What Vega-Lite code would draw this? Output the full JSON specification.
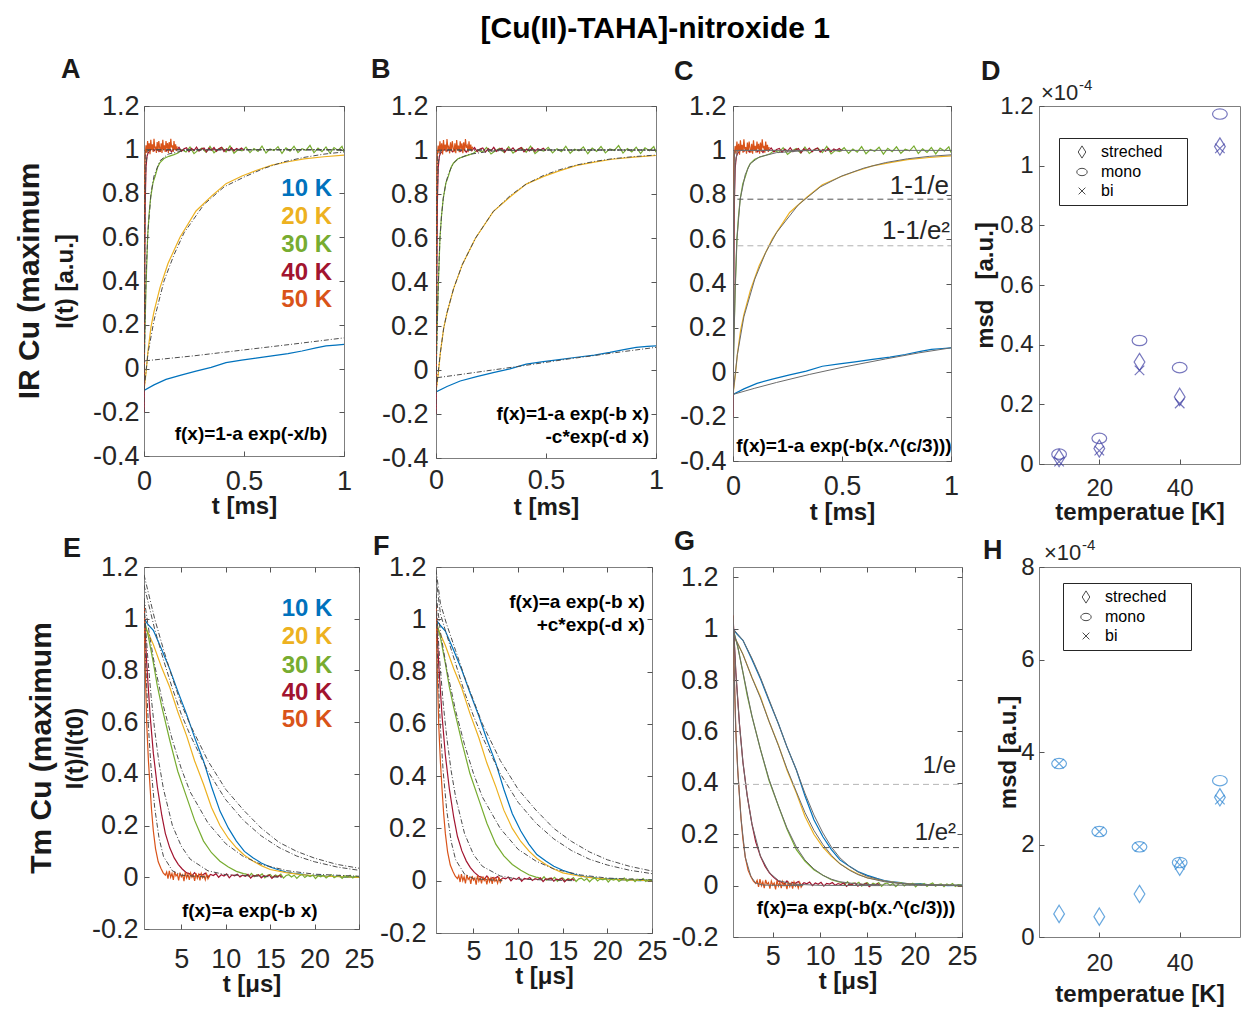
{
"$schema": "https://vega.github.io/schema/vega-lite/v6.json",
"padding": {"left": 13, "top": 13, "right": 0, "bottom": 0},
"title": {"text": "[Cu(II)-TAHA]-nitroxide 1", "fontSize": 30, "fontWeight": "bold", "font": "Liberation Sans", "color": "#000000", "anchor": "middle", "offset": 12, "dx": 28},
"config": {
  "font": "Liberation Sans",
  "view": {"stroke": "#7f7f7f", "strokeWidth": 1},
  "axis": {"domain": false, "grid": false, "ticks": true, "tickSize": -5, "tickColor": "#555555", "tickWidth": 1, "labelFont": "Liberation Sans", "labelFontSize": 27, "labelColor": "#262626", "labelFlush": false, "labelOverlap": false, "titleFont": "Liberation Sans", "titleFontSize": 24, "titleFontWeight": "bold", "titleColor": "#1a1a1a"},
  "text": {"font": "Liberation Sans"},
  "legend": {"labelFont": "Liberation Sans"}
},
"datasets": {
"ir": [
{"s":"10 K","t":0,"y":-0.1},{"s":"10 K","t":0.05,"y":-0.075},{"s":"10 K","t":0.11,"y":-0.05},{"s":"10 K","t":0.185,"y":-0.03},{"s":"10 K","t":0.26,"y":-0.012},{"s":"10 K","t":0.336,"y":0.005},{"s":"10 K","t":0.41,"y":0.027},{"s":"10 K","t":0.488,"y":0.038},{"s":"10 K","t":0.56,"y":0.047},{"s":"10 K","t":0.64,"y":0.058},{"s":"10 K","t":0.72,"y":0.068},{"s":"10 K","t":0.79,"y":0.08},{"s":"10 K","t":0.86,"y":0.094},{"s":"10 K","t":0.91,"y":0.103},{"s":"10 K","t":0.96,"y":0.107},{"s":"10 K","t":1,"y":0.11},
{"s":"20 K","t":0,"y":-0.1},{"s":"20 K","t":0.01,"y":-0.02},{"s":"20 K","t":0.02,"y":0.08},{"s":"20 K","t":0.035,"y":0.19},{"s":"20 K","t":0.05,"y":0.26},{"s":"20 K","t":0.08,"y":0.37},{"s":"20 K","t":0.12,"y":0.48},{"s":"20 K","t":0.18,"y":0.6},{"s":"20 K","t":0.26,"y":0.72},{"s":"20 K","t":0.34,"y":0.79},{"s":"20 K","t":0.41,"y":0.845},{"s":"20 K","t":0.49,"y":0.88},{"s":"20 K","t":0.56,"y":0.905},{"s":"20 K","t":0.64,"y":0.93},{"s":"20 K","t":0.72,"y":0.945},{"s":"20 K","t":0.8,"y":0.958},{"s":"20 K","t":0.9,"y":0.968},{"s":"20 K","t":1,"y":0.975},
{"s":"30 K","t":0,"y":-0.05},{"s":"30 K","t":0.004,"y":0.15},{"s":"30 K","t":0.01,"y":0.37},{"s":"30 K","t":0.018,"y":0.6},{"s":"30 K","t":0.025,"y":0.7},{"s":"30 K","t":0.033,"y":0.78},{"s":"30 K","t":0.045,"y":0.85},{"s":"30 K","t":0.056,"y":0.88},{"s":"30 K","t":0.068,"y":0.92},{"s":"30 K","t":0.079,"y":0.94},{"s":"30 K","t":0.1,"y":0.96},{"s":"30 K","t":0.124,"y":0.97},{"s":"30 K","t":0.15,"y":0.978},
{"s":"30 K","t":0.17,"y":0.985},{"s":"30 K","t":0.19,"y":1.0},{"s":"30 K","t":0.21,"y":0.99},{"s":"30 K","t":0.23,"y":1.012},{"s":"30 K","t":0.25,"y":0.982},{"s":"30 K","t":0.27,"y":0.997},{"s":"30 K","t":0.29,"y":1.008},{"s":"30 K","t":0.31,"y":0.988},{"s":"30 K","t":0.33,"y":1.015},{"s":"30 K","t":0.35,"y":0.986},{"s":"30 K","t":0.37,"y":1.002},{"s":"30 K","t":0.39,"y":1.01},{"s":"30 K","t":0.41,"y":0.99},{"s":"30 K","t":0.43,"y":1.018},{"s":"30 K","t":0.45,"y":0.984},{"s":"30 K","t":0.47,"y":1.0},{"s":"30 K","t":0.49,"y":0.995},{"s":"30 K","t":0.51,"y":1.012},{"s":"30 K","t":0.53,"y":0.987},{"s":"30 K","t":0.55,"y":1.006},{"s":"30 K","t":0.57,"y":0.992},{"s":"30 K","t":0.59,"y":1.017},{"s":"30 K","t":0.61,"y":0.985},{"s":"30 K","t":0.63,"y":1.004},{"s":"30 K","t":0.65,"y":0.996},{"s":"30 K","t":0.67,"y":1.014},{"s":"30 K","t":0.69,"y":0.983},{"s":"30 K","t":0.71,"y":1.009},{"s":"30 K","t":0.73,"y":0.994},{"s":"30 K","t":0.75,"y":1.016},{"s":"30 K","t":0.77,"y":0.987},{"s":"30 K","t":0.79,"y":1.005},{"s":"30 K","t":0.81,"y":0.998},{"s":"30 K","t":0.83,"y":1.02},{"s":"30 K","t":0.85,"y":0.986},{"s":"30 K","t":0.87,"y":1.007},{"s":"30 K","t":0.89,"y":0.991},{"s":"30 K","t":0.91,"y":1.013},{"s":"30 K","t":0.93,"y":0.984},{"s":"30 K","t":0.95,"y":1.01},{"s":"30 K","t":0.97,"y":0.997},{"s":"30 K","t":0.99,"y":1.016},{"s":"30 K","t":1.0,"y":0.99},
{"s":"40 K","t":0,"y":-0.2},{"s":"40 K","t":0.003,"y":0.3},{"s":"40 K","t":0.006,"y":0.75},{"s":"40 K","t":0.01,"y":0.92},{"s":"40 K","t":0.015,"y":0.97},{"s":"40 K","t":0.02,"y":0.985},{"s":"40 K","t":0.03,"y":0.995},
{"s":"40 K","t":0.0375,"y":1.005},{"s":"40 K","t":0.05,"y":0.995},{"s":"40 K","t":0.0625,"y":1.01},{"s":"40 K","t":0.075,"y":0.992},{"s":"40 K","t":0.0875,"y":1.003},{"s":"40 K","t":0.1,"y":1.012},{"s":"40 K","t":0.1125,"y":0.994},{"s":"40 K","t":0.125,"y":1.006},{"s":"40 K","t":0.1375,"y":0.99},{"s":"40 K","t":0.15,"y":1.008},{"s":"40 K","t":0.1625,"y":0.997},{"s":"40 K","t":0.175,"y":1.011},{"s":"40 K","t":0.1875,"y":0.993},{"s":"40 K","t":0.2,"y":1.004},{"s":"40 K","t":0.2125,"y":1.009},{"s":"40 K","t":0.225,"y":0.991},{"s":"40 K","t":0.2375,"y":1.006},{"s":"40 K","t":0.25,"y":0.996},{"s":"40 K","t":0.2625,"y":1.012},{"s":"40 K","t":0.275,"y":0.994},{"s":"40 K","t":0.2875,"y":1.003},{"s":"40 K","t":0.3,"y":1.008},{"s":"40 K","t":0.3125,"y":0.99},{"s":"40 K","t":0.325,"y":1.007},{"s":"40 K","t":0.3375,"y":0.998},{"s":"40 K","t":0.35,"y":1.01},{"s":"40 K","t":0.3625,"y":0.993},{"s":"40 K","t":0.375,"y":1.005},{"s":"40 K","t":0.3875,"y":1.011},{"s":"40 K","t":0.4,"y":0.992},{"s":"40 K","t":0.4125,"y":1.004},{"s":"40 K","t":0.425,"y":0.996},{"s":"40 K","t":0.4375,"y":1.009},{"s":"40 K","t":0.45,"y":0.994},{"s":"40 K","t":0.4625,"y":1.006},{"s":"40 K","t":0.475,"y":1.0},{"s":"40 K","t":0.4875,"y":1.008},{"s":"40 K","t":0.5,"y":0.997},
{"s":"50 K","t":0,"y":-0.05},{"s":"50 K","t":0.002,"y":0.5},{"s":"50 K","t":0.004,"y":0.9},{"s":"50 K","t":0.006,"y":0.98},{"s":"50 K","t":0.008,"y":1.0},
{"s":"50 K","t":0.01,"y":1.02},{"s":"50 K","t":0.014,"y":0.985},{"s":"50 K","t":0.018,"y":1.04},{"s":"50 K","t":0.022,"y":0.995},{"s":"50 K","t":0.026,"y":1.03},{"s":"50 K","t":0.03,"y":0.98},{"s":"50 K","t":0.034,"y":1.045},{"s":"50 K","t":0.038,"y":1.0},{"s":"50 K","t":0.042,"y":1.025},{"s":"50 K","t":0.046,"y":0.99},{"s":"50 K","t":0.05,"y":1.05},{"s":"50 K","t":0.054,"y":1.005},{"s":"50 K","t":0.058,"y":1.015},{"s":"50 K","t":0.062,"y":0.985},{"s":"50 K","t":0.066,"y":1.035},{"s":"50 K","t":0.07,"y":0.995},{"s":"50 K","t":0.074,"y":1.04},{"s":"50 K","t":0.078,"y":1.01},{"s":"50 K","t":0.082,"y":0.99},{"s":"50 K","t":0.086,"y":1.03},{"s":"50 K","t":0.09,"y":0.985},{"s":"50 K","t":0.094,"y":1.045},{"s":"50 K","t":0.098,"y":1.0},{"s":"50 K","t":0.102,"y":1.02},{"s":"50 K","t":0.106,"y":0.99},{"s":"50 K","t":0.11,"y":1.04},{"s":"50 K","t":0.114,"y":1.005},{"s":"50 K","t":0.118,"y":1.03},{"s":"50 K","t":0.122,"y":0.985},{"s":"50 K","t":0.126,"y":1.035},{"s":"50 K","t":0.13,"y":0.995},{"s":"50 K","t":0.134,"y":1.05},{"s":"50 K","t":0.138,"y":1.01},{"s":"50 K","t":0.142,"y":1.02},{"s":"50 K","t":0.146,"y":0.99},{"s":"50 K","t":0.15,"y":1.04},{"s":"50 K","t":0.154,"y":1.0},{"s":"50 K","t":0.158,"y":1.025},{"s":"50 K","t":0.162,"y":0.995},{"s":"50 K","t":0.166,"y":1.015}
],
"tm": [
{"s":"10 K","t":0.8,"y":1.0},{"s":"10 K","t":1.2,"y":0.98},{"s":"10 K","t":1.85,"y":0.955},{"s":"10 K","t":2.8,"y":0.88},{"s":"10 K","t":3.7,"y":0.805},{"s":"10 K","t":4.6,"y":0.72},{"s":"10 K","t":5.6,"y":0.63},{"s":"10 K","t":6.5,"y":0.54},{"s":"10 K","t":7.5,"y":0.45},{"s":"10 K","t":8.4,"y":0.35},{"s":"10 K","t":9.35,"y":0.256},{"s":"10 K","t":10.3,"y":0.19},{"s":"10 K","t":11.2,"y":0.14},{"s":"10 K","t":12.1,"y":0.1},{"s":"10 K","t":13.1,"y":0.075},{"s":"10 K","t":14,"y":0.055},{"s":"10 K","t":15,"y":0.04},{"s":"10 K","t":16,"y":0.028},{"s":"10 K","t":16.8,"y":0.02},{"s":"10 K","t":17.5,"y":0.016},{"s":"10 K","t":18.5,"y":0.012},{"s":"10 K","t":19.5,"y":0.006},{"s":"10 K","t":20.6,"y":0.008},{"s":"10 K","t":21.5,"y":0.003},{"s":"10 K","t":22.5,"y":0.004},{"s":"10 K","t":23.5,"y":0.0},{"s":"10 K","t":25,"y":0.002},
{"s":"20 K","t":0.8,"y":0.97},{"s":"20 K","t":1.2,"y":0.95},{"s":"20 K","t":1.85,"y":0.9},{"s":"20 K","t":2.8,"y":0.81},{"s":"20 K","t":3.7,"y":0.735},{"s":"20 K","t":4.6,"y":0.64},{"s":"20 K","t":5.6,"y":0.547},{"s":"20 K","t":6.5,"y":0.45},{"s":"20 K","t":7.5,"y":0.36},{"s":"20 K","t":8.4,"y":0.27},{"s":"20 K","t":9.35,"y":0.2},{"s":"20 K","t":10.3,"y":0.15},{"s":"20 K","t":11.2,"y":0.114},{"s":"20 K","t":12.1,"y":0.085},{"s":"20 K","t":13.1,"y":0.062},{"s":"20 K","t":14,"y":0.045},{"s":"20 K","t":15,"y":0.03},{"s":"20 K","t":16.8,"y":0.018},{"s":"20 K","t":18.5,"y":0.01},{"s":"20 K","t":20,"y":0.006},{"s":"20 K","t":22,"y":0.003},{"s":"20 K","t":25,"y":0.0},
{"s":"30 K","t":0.8,"y":1.0},{"s":"30 K","t":1.3,"y":0.93},{"s":"30 K","t":1.85,"y":0.83},{"s":"30 K","t":2.3,"y":0.74},{"s":"30 K","t":2.8,"y":0.66},{"s":"30 K","t":3.7,"y":0.53},{"s":"30 K","t":4.6,"y":0.41},{"s":"30 K","t":5.6,"y":0.31},{"s":"30 K","t":6.5,"y":0.22},{"s":"30 K","t":7.5,"y":0.14},{"s":"30 K","t":8.4,"y":0.095},{"s":"30 K","t":9.35,"y":0.062},{"s":"30 K","t":10.3,"y":0.04},{"s":"30 K","t":11.2,"y":0.023},{"s":"30 K","t":12,"y":0.014},
{"s":"30 K","t":12.3,"y":0.012},{"s":"30 K","t":12.6,"y":0.004},{"s":"30 K","t":12.9,"y":0.015},{"s":"30 K","t":13.2,"y":0.002},{"s":"30 K","t":13.5,"y":0.01},{"s":"30 K","t":13.8,"y":0.006},{"s":"30 K","t":14.1,"y":0.013},{"s":"30 K","t":14.4,"y":-0.002},{"s":"30 K","t":14.7,"y":0.008},{"s":"30 K","t":15.0,"y":0.011},{"s":"30 K","t":15.3,"y":0.0},{"s":"30 K","t":15.6,"y":0.009},{"s":"30 K","t":15.9,"y":0.004},{"s":"30 K","t":16.2,"y":0.012},{"s":"30 K","t":16.5,"y":-0.003},{"s":"30 K","t":16.8,"y":0.007},{"s":"30 K","t":17.1,"y":0.01},{"s":"30 K","t":17.4,"y":0.001},{"s":"30 K","t":17.7,"y":0.008},{"s":"30 K","t":18.0,"y":-0.004},{"s":"30 K","t":18.3,"y":0.006},{"s":"30 K","t":18.6,"y":0.011},{"s":"30 K","t":18.9,"y":-0.001},{"s":"30 K","t":19.2,"y":0.007},{"s":"30 K","t":19.5,"y":0.003},{"s":"30 K","t":19.8,"y":0.009},{"s":"30 K","t":20.1,"y":-0.005},{"s":"30 K","t":20.4,"y":0.006},{"s":"30 K","t":20.7,"y":0.002},{"s":"30 K","t":21.0,"y":0.008},{"s":"30 K","t":21.3,"y":-0.003},{"s":"30 K","t":21.6,"y":0.005},{"s":"30 K","t":21.9,"y":0.01},{"s":"30 K","t":22.2,"y":-0.002},{"s":"30 K","t":22.5,"y":0.004},{"s":"30 K","t":22.8,"y":0.007},{"s":"30 K","t":23.1,"y":-0.004},{"s":"30 K","t":23.4,"y":0.006},{"s":"30 K","t":23.7,"y":0.001},{"s":"30 K","t":24.0,"y":0.008},{"s":"30 K","t":24.3,"y":-0.003},{"s":"30 K","t":24.6,"y":0.004},{"s":"30 K","t":24.9,"y":0.002},{"s":"30 K","t":25,"y":0.0},
{"s":"40 K","t":0.8,"y":1.05},{"s":"40 K","t":1.1,"y":0.83},{"s":"40 K","t":1.48,"y":0.63},{"s":"40 K","t":1.85,"y":0.48},{"s":"40 K","t":2.3,"y":0.35},{"s":"40 K","t":2.8,"y":0.24},{"s":"40 K","t":3.2,"y":0.17},{"s":"40 K","t":3.7,"y":0.114},{"s":"40 K","t":4.2,"y":0.075},{"s":"40 K","t":4.65,"y":0.05},{"s":"40 K","t":5.1,"y":0.032},{"s":"40 K","t":5.6,"y":0.017},
{"s":"40 K","t":5.9,"y":0.014},{"s":"40 K","t":6.2,"y":0.006},{"s":"40 K","t":6.5,"y":0.018},{"s":"40 K","t":6.8,"y":0.004},{"s":"40 K","t":7.1,"y":0.012},{"s":"40 K","t":7.4,"y":0.009},{"s":"40 K","t":7.7,"y":0.016},{"s":"40 K","t":8.0,"y":0.002},{"s":"40 K","t":8.3,"y":0.011},{"s":"40 K","t":8.6,"y":0.007},{"s":"40 K","t":8.9,"y":0.014},{"s":"40 K","t":9.2,"y":0.0},{"s":"40 K","t":9.5,"y":0.01},{"s":"40 K","t":9.8,"y":0.005},{"s":"40 K","t":10.1,"y":0.013},{"s":"40 K","t":10.4,"y":-0.002},{"s":"40 K","t":10.7,"y":0.009},{"s":"40 K","t":11.0,"y":0.006},{"s":"40 K","t":11.3,"y":0.012},{"s":"40 K","t":11.6,"y":0.001},{"s":"40 K","t":11.9,"y":0.008},{"s":"40 K","t":12.2,"y":0.004},{"s":"40 K","t":12.5,"y":0.011},{"s":"40 K","t":12.8,"y":-0.003},{"s":"40 K","t":13.1,"y":0.007},{"s":"40 K","t":13.4,"y":0.005},{"s":"40 K","t":13.7,"y":0.01},{"s":"40 K","t":14.0,"y":-0.002},{"s":"40 K","t":14.3,"y":0.006},{"s":"40 K","t":14.6,"y":0.003},{"s":"40 K","t":14.9,"y":0.009},{"s":"40 K","t":15.2,"y":-0.004},{"s":"40 K","t":15.5,"y":0.005},{"s":"40 K","t":15.8,"y":0.002},{"s":"40 K","t":16.1,"y":0.007},{"s":"40 K","t":16.3,"y":0.0},
{"s":"50 K","t":0.8,"y":1.05},{"s":"50 K","t":0.95,"y":0.8},{"s":"50 K","t":1.1,"y":0.6},{"s":"50 K","t":1.3,"y":0.45},{"s":"50 K","t":1.48,"y":0.35},{"s":"50 K","t":1.65,"y":0.26},{"s":"50 K","t":1.85,"y":0.18},{"s":"50 K","t":2.1,"y":0.11},{"s":"50 K","t":2.4,"y":0.06},{"s":"50 K","t":2.7,"y":0.035},{"s":"50 K","t":2.96,"y":0.017},{"s":"50 K","t":3.2,"y":0.008},
{"s":"50 K","t":3.35,"y":0.02},{"s":"50 K","t":3.5,"y":-0.005},{"s":"50 K","t":3.65,"y":0.025},{"s":"50 K","t":3.8,"y":0.0},{"s":"50 K","t":3.95,"y":0.015},{"s":"50 K","t":4.1,"y":-0.01},{"s":"50 K","t":4.25,"y":0.022},{"s":"50 K","t":4.4,"y":0.005},{"s":"50 K","t":4.55,"y":0.012},{"s":"50 K","t":4.7,"y":-0.012},{"s":"50 K","t":4.85,"y":0.018},{"s":"50 K","t":5.0,"y":0.002},{"s":"50 K","t":5.15,"y":0.01},{"s":"50 K","t":5.3,"y":-0.015},{"s":"50 K","t":5.45,"y":0.02},{"s":"50 K","t":5.6,"y":-0.002},{"s":"50 K","t":5.75,"y":0.012},{"s":"50 K","t":5.9,"y":-0.01},{"s":"50 K","t":6.05,"y":0.016},{"s":"50 K","t":6.2,"y":0.0},{"s":"50 K","t":6.35,"y":0.008},{"s":"50 K","t":6.5,"y":-0.014},{"s":"50 K","t":6.65,"y":0.015},{"s":"50 K","t":6.8,"y":-0.004},{"s":"50 K","t":6.95,"y":0.01},{"s":"50 K","t":7.1,"y":-0.012},{"s":"50 K","t":7.25,"y":0.014},{"s":"50 K","t":7.4,"y":-0.002},{"s":"50 K","t":7.55,"y":0.006},{"s":"50 K","t":7.7,"y":-0.01},{"s":"50 K","t":7.85,"y":0.012},{"s":"50 K","t":8.0,"y":-0.006},{"s":"50 K","t":8.15,"y":0.004},{"s":"50 K","t":8.2,"y":0.0}
],
"fitA": [
{"s":"10 K","t":0.005,"y":0.035},{"s":"10 K","t":0.25,"y":0.058},{"s":"10 K","t":0.5,"y":0.085},{"s":"10 K","t":0.75,"y":0.112},{"s":"10 K","t":1,"y":0.14},
{"s":"20 K","t":0,"y":-0.1},{"s":"20 K","t":0.02,"y":0.07},{"s":"20 K","t":0.05,"y":0.22},{"s":"20 K","t":0.1,"y":0.4},{"s":"20 K","t":0.15,"y":0.52},{"s":"20 K","t":0.2,"y":0.62},{"s":"20 K","t":0.3,"y":0.75},{"s":"20 K","t":0.4,"y":0.83},{"s":"20 K","t":0.5,"y":0.875},{"s":"20 K","t":0.6,"y":0.915},{"s":"20 K","t":0.7,"y":0.945},{"s":"20 K","t":0.8,"y":0.965},{"s":"20 K","t":0.9,"y":0.98},{"s":"20 K","t":1,"y":0.99},
{"s":"30 K","t":0,"y":-0.05},{"s":"30 K","t":0.01,"y":0.42},{"s":"30 K","t":0.02,"y":0.63},{"s":"30 K","t":0.035,"y":0.8},{"s":"30 K","t":0.05,"y":0.88},{"s":"30 K","t":0.08,"y":0.95},{"s":"30 K","t":0.12,"y":0.98},{"s":"30 K","t":0.2,"y":0.996},{"s":"30 K","t":0.3,"y":1.0},{"s":"30 K","t":1,"y":1.0},
{"s":"40 K","t":0,"y":-0.2},{"s":"40 K","t":0.005,"y":0.75},{"s":"40 K","t":0.01,"y":0.94},{"s":"40 K","t":0.02,"y":0.995},{"s":"40 K","t":0.03,"y":1.0},{"s":"40 K","t":1,"y":1.0},
{"s":"50 K","t":0,"y":-0.05},{"s":"50 K","t":0.003,"y":0.8},{"s":"50 K","t":0.006,"y":0.97},{"s":"50 K","t":0.01,"y":1.0},{"s":"50 K","t":1,"y":1.0}
],
"fitB": [
{"s":"10 K","t":0.005,"y":-0.035},{"s":"10 K","t":0.1,"y":-0.022},{"s":"10 K","t":0.2,"y":-0.008},{"s":"10 K","t":0.3,"y":0.006},{"s":"10 K","t":0.4,"y":0.02},{"s":"10 K","t":0.5,"y":0.035},{"s":"10 K","t":0.6,"y":0.05},{"s":"10 K","t":0.7,"y":0.063},{"s":"10 K","t":0.8,"y":0.077},{"s":"10 K","t":0.9,"y":0.09},{"s":"10 K","t":1,"y":0.103},
{"s":"20 K","t":0,"y":-0.1},{"s":"20 K","t":0.02,"y":0.08},{"s":"20 K","t":0.035,"y":0.19},{"s":"20 K","t":0.05,"y":0.26},{"s":"20 K","t":0.08,"y":0.37},{"s":"20 K","t":0.12,"y":0.48},{"s":"20 K","t":0.18,"y":0.6},{"s":"20 K","t":0.26,"y":0.72},{"s":"20 K","t":0.34,"y":0.795},{"s":"20 K","t":0.41,"y":0.845},{"s":"20 K","t":0.49,"y":0.885},{"s":"20 K","t":0.56,"y":0.91},{"s":"20 K","t":0.64,"y":0.932},{"s":"20 K","t":0.72,"y":0.948},{"s":"20 K","t":0.8,"y":0.96},{"s":"20 K","t":0.9,"y":0.97},{"s":"20 K","t":1,"y":0.977},
{"s":"30 K","t":0,"y":-0.05},{"s":"30 K","t":0.01,"y":0.38},{"s":"30 K","t":0.018,"y":0.6},{"s":"30 K","t":0.025,"y":0.7},{"s":"30 K","t":0.033,"y":0.78},{"s":"30 K","t":0.045,"y":0.85},{"s":"30 K","t":0.056,"y":0.89},{"s":"30 K","t":0.079,"y":0.94},{"s":"30 K","t":0.1,"y":0.96},{"s":"30 K","t":0.15,"y":0.98},{"s":"30 K","t":0.25,"y":0.995},{"s":"30 K","t":0.4,"y":1.0},{"s":"30 K","t":1,"y":1.0},
{"s":"40 K","t":0,"y":-0.2},{"s":"40 K","t":0.005,"y":0.75},{"s":"40 K","t":0.01,"y":0.94},{"s":"40 K","t":0.02,"y":0.995},{"s":"40 K","t":0.03,"y":1.0},{"s":"40 K","t":1,"y":1.0},
{"s":"50 K","t":0,"y":-0.05},{"s":"50 K","t":0.003,"y":0.8},{"s":"50 K","t":0.006,"y":0.97},{"s":"50 K","t":0.01,"y":1.0},{"s":"50 K","t":1,"y":1.0}
],
"fitC": [
{"s":"10 K","t":0,"y":-0.1},{"s":"10 K","t":0.1,"y":-0.072},{"s":"10 K","t":0.2,"y":-0.046},{"s":"10 K","t":0.35,"y":-0.01},{"s":"10 K","t":0.5,"y":0.022},{"s":"10 K","t":0.7,"y":0.06},{"s":"10 K","t":0.85,"y":0.087},{"s":"10 K","t":1,"y":0.11},
{"s":"20 K","t":0,"y":-0.1},{"s":"20 K","t":0.02,"y":0.08},{"s":"20 K","t":0.05,"y":0.25},{"s":"20 K","t":0.1,"y":0.42},{"s":"20 K","t":0.15,"y":0.54},{"s":"20 K","t":0.2,"y":0.63},{"s":"20 K","t":0.3,"y":0.755},{"s":"20 K","t":0.4,"y":0.835},{"s":"20 K","t":0.5,"y":0.885},{"s":"20 K","t":0.6,"y":0.92},{"s":"20 K","t":0.7,"y":0.945},{"s":"20 K","t":0.8,"y":0.962},{"s":"20 K","t":0.9,"y":0.973},{"s":"20 K","t":1,"y":0.98},
{"s":"30 K","t":0,"y":-0.05},{"s":"30 K","t":0.01,"y":0.38},{"s":"30 K","t":0.018,"y":0.6},{"s":"30 K","t":0.033,"y":0.78},{"s":"30 K","t":0.056,"y":0.89},{"s":"30 K","t":0.079,"y":0.94},{"s":"30 K","t":0.12,"y":0.97},{"s":"30 K","t":0.2,"y":0.99},{"s":"30 K","t":0.35,"y":1.0},{"s":"30 K","t":1,"y":1.0},
{"s":"40 K","t":0,"y":-0.2},{"s":"40 K","t":0.005,"y":0.75},{"s":"40 K","t":0.01,"y":0.94},{"s":"40 K","t":0.02,"y":0.995},{"s":"40 K","t":0.03,"y":1.0},{"s":"40 K","t":0.5,"y":1.0},
{"s":"50 K","t":0,"y":-0.05},{"s":"50 K","t":0.003,"y":0.8},{"s":"50 K","t":0.006,"y":0.97},{"s":"50 K","t":0.01,"y":1.0},{"s":"50 K","t":0.17,"y":1.0}
],
"fitE": [
{"s":"10 K","t":0.8,"y":1.17},{"s":"10 K","t":2,"y":1.0},{"s":"10 K","t":3,"y":0.88},{"s":"10 K","t":4,"y":0.77},{"s":"10 K","t":5,"y":0.67},{"s":"10 K","t":6,"y":0.59},{"s":"10 K","t":8,"y":0.45},{"s":"10 K","t":10,"y":0.34},{"s":"10 K","t":12,"y":0.26},{"s":"10 K","t":14,"y":0.19},{"s":"10 K","t":16,"y":0.135},{"s":"10 K","t":18,"y":0.1},{"s":"10 K","t":20,"y":0.074},{"s":"10 K","t":22.5,"y":0.05},{"s":"10 K","t":25,"y":0.035},
{"s":"20 K","t":0.8,"y":1.13},{"s":"20 K","t":2,"y":0.96},{"s":"20 K","t":3,"y":0.84},{"s":"20 K","t":4,"y":0.73},{"s":"20 K","t":5,"y":0.63},{"s":"20 K","t":6,"y":0.55},{"s":"20 K","t":8,"y":0.41},{"s":"20 K","t":10,"y":0.3},{"s":"20 K","t":12,"y":0.22},{"s":"20 K","t":14,"y":0.16},{"s":"20 K","t":16,"y":0.115},{"s":"20 K","t":18,"y":0.082},{"s":"20 K","t":20,"y":0.06},{"s":"20 K","t":22.5,"y":0.04},{"s":"20 K","t":25,"y":0.027},
{"s":"30 K","t":0.8,"y":1.08},{"s":"30 K","t":1.5,"y":0.92},{"s":"30 K","t":2,"y":0.82},{"s":"30 K","t":3,"y":0.66},{"s":"30 K","t":4,"y":0.53},{"s":"30 K","t":5,"y":0.42},{"s":"30 K","t":6,"y":0.33},{"s":"30 K","t":8,"y":0.21},{"s":"30 K","t":10,"y":0.13},{"s":"30 K","t":12,"y":0.08},{"s":"30 K","t":14,"y":0.05},{"s":"30 K","t":17,"y":0.025},{"s":"30 K","t":20,"y":0.012},{"s":"30 K","t":25,"y":0.004},
{"s":"40 K","t":0.8,"y":1.06},{"s":"40 K","t":1.2,"y":0.86},{"s":"40 K","t":1.6,"y":0.7},{"s":"40 K","t":2,"y":0.57},{"s":"40 K","t":2.5,"y":0.44},{"s":"40 K","t":3,"y":0.34},{"s":"40 K","t":4,"y":0.2},{"s":"40 K","t":5,"y":0.12},{"s":"40 K","t":6,"y":0.07},{"s":"40 K","t":8,"y":0.025},{"s":"40 K","t":10,"y":0.01},{"s":"40 K","t":16.3,"y":0.0},
{"s":"50 K","t":0.8,"y":1.06},{"s":"50 K","t":1,"y":0.82},{"s":"50 K","t":1.3,"y":0.58},{"s":"50 K","t":1.6,"y":0.42},{"s":"50 K","t":2,"y":0.27},{"s":"50 K","t":2.5,"y":0.15},{"s":"50 K","t":3,"y":0.08},{"s":"50 K","t":4,"y":0.025},{"s":"50 K","t":5,"y":0.008},{"s":"50 K","t":8.2,"y":0.0}
],
"fitF": [
{"s":"10 K","t":0.8,"y":1.19},{"s":"10 K","t":1.3,"y":1.06},{"s":"10 K","t":2,"y":0.98},{"s":"10 K","t":3,"y":0.88},{"s":"10 K","t":4,"y":0.78},{"s":"10 K","t":5,"y":0.69},{"s":"10 K","t":6,"y":0.6},{"s":"10 K","t":8,"y":0.46},{"s":"10 K","t":10,"y":0.35},{"s":"10 K","t":12,"y":0.27},{"s":"10 K","t":14,"y":0.2},{"s":"10 K","t":16,"y":0.15},{"s":"10 K","t":18,"y":0.11},{"s":"10 K","t":20,"y":0.08},{"s":"10 K","t":22.5,"y":0.055},{"s":"10 K","t":25,"y":0.037},
{"s":"20 K","t":0.8,"y":1.16},{"s":"20 K","t":1.3,"y":1.02},{"s":"20 K","t":2,"y":0.94},{"s":"20 K","t":3,"y":0.83},{"s":"20 K","t":4,"y":0.72},{"s":"20 K","t":5,"y":0.63},{"s":"20 K","t":6,"y":0.55},{"s":"20 K","t":8,"y":0.41},{"s":"20 K","t":10,"y":0.3},{"s":"20 K","t":12,"y":0.22},{"s":"20 K","t":14,"y":0.16},{"s":"20 K","t":16,"y":0.115},{"s":"20 K","t":18,"y":0.082},{"s":"20 K","t":20,"y":0.06},{"s":"20 K","t":22.5,"y":0.04},{"s":"20 K","t":25,"y":0.027},
{"s":"30 K","t":0.8,"y":1.1},{"s":"30 K","t":1.3,"y":0.95},{"s":"30 K","t":2,"y":0.81},{"s":"30 K","t":3,"y":0.65},{"s":"30 K","t":4,"y":0.52},{"s":"30 K","t":5,"y":0.41},{"s":"30 K","t":6,"y":0.32},{"s":"30 K","t":8,"y":0.2},{"s":"30 K","t":10,"y":0.12},{"s":"30 K","t":12,"y":0.075},{"s":"30 K","t":14,"y":0.045},{"s":"30 K","t":17,"y":0.022},{"s":"30 K","t":20,"y":0.01},{"s":"30 K","t":25,"y":0.003},
{"s":"40 K","t":0.8,"y":1.07},{"s":"40 K","t":1.2,"y":0.85},{"s":"40 K","t":1.6,"y":0.68},{"s":"40 K","t":2,"y":0.55},{"s":"40 K","t":2.5,"y":0.42},{"s":"40 K","t":3,"y":0.32},{"s":"40 K","t":4,"y":0.18},{"s":"40 K","t":5,"y":0.1},{"s":"40 K","t":6,"y":0.055},{"s":"40 K","t":8,"y":0.018},{"s":"40 K","t":10,"y":0.006},{"s":"40 K","t":16.3,"y":0.0},
{"s":"50 K","t":0.8,"y":1.06},{"s":"50 K","t":1,"y":0.82},{"s":"50 K","t":1.3,"y":0.58},{"s":"50 K","t":1.6,"y":0.42},{"s":"50 K","t":2,"y":0.27},{"s":"50 K","t":2.5,"y":0.15},{"s":"50 K","t":3,"y":0.08},{"s":"50 K","t":4,"y":0.025},{"s":"50 K","t":5,"y":0.008},{"s":"50 K","t":8.2,"y":0.0}
],
"fitG": [
{"s":"10 K","t":0.8,"y":1.0},{"s":"10 K","t":1.85,"y":0.955},{"s":"10 K","t":2.8,"y":0.885},{"s":"10 K","t":3.7,"y":0.81},{"s":"10 K","t":4.6,"y":0.725},{"s":"10 K","t":5.6,"y":0.63},{"s":"10 K","t":6.5,"y":0.54},{"s":"10 K","t":7.5,"y":0.45},{"s":"10 K","t":8.4,"y":0.36},{"s":"10 K","t":9.35,"y":0.275},{"s":"10 K","t":10.3,"y":0.205},{"s":"10 K","t":11.2,"y":0.15},{"s":"10 K","t":12.1,"y":0.108},{"s":"10 K","t":13.1,"y":0.075},{"s":"10 K","t":14,"y":0.053},{"s":"10 K","t":15,"y":0.036},{"s":"10 K","t":16.8,"y":0.018},{"s":"10 K","t":18.5,"y":0.009},{"s":"10 K","t":20.6,"y":0.004},{"s":"10 K","t":25,"y":0.001},
{"s":"20 K","t":0.8,"y":0.98},{"s":"20 K","t":1.85,"y":0.9},{"s":"20 K","t":2.8,"y":0.81},{"s":"20 K","t":3.7,"y":0.73},{"s":"20 K","t":4.6,"y":0.64},{"s":"20 K","t":5.6,"y":0.545},{"s":"20 K","t":6.5,"y":0.455},{"s":"20 K","t":7.5,"y":0.365},{"s":"20 K","t":8.4,"y":0.285},{"s":"20 K","t":9.35,"y":0.215},{"s":"20 K","t":10.3,"y":0.16},{"s":"20 K","t":11.2,"y":0.118},{"s":"20 K","t":12.1,"y":0.085},{"s":"20 K","t":13.1,"y":0.06},{"s":"20 K","t":14,"y":0.043},{"s":"20 K","t":15,"y":0.03},{"s":"20 K","t":16.8,"y":0.015},{"s":"20 K","t":18.5,"y":0.008},{"s":"20 K","t":20.6,"y":0.003},{"s":"20 K","t":25,"y":0.001},
{"s":"30 K","t":0.8,"y":1.0},{"s":"30 K","t":1.3,"y":0.93},{"s":"30 K","t":1.85,"y":0.83},{"s":"30 K","t":2.8,"y":0.66},{"s":"30 K","t":3.7,"y":0.53},{"s":"30 K","t":4.6,"y":0.415},{"s":"30 K","t":5.6,"y":0.31},{"s":"30 K","t":6.5,"y":0.225},{"s":"30 K","t":7.5,"y":0.15},{"s":"30 K","t":8.4,"y":0.1},{"s":"30 K","t":9.35,"y":0.065},{"s":"30 K","t":10.3,"y":0.04},{"s":"30 K","t":11.2,"y":0.025},{"s":"30 K","t":12.1,"y":0.015},{"s":"30 K","t":14,"y":0.006},{"s":"30 K","t":17,"y":0.002},{"s":"30 K","t":25,"y":0.0},
{"s":"40 K","t":0.8,"y":1.05},{"s":"40 K","t":1.1,"y":0.83},{"s":"40 K","t":1.48,"y":0.63},{"s":"40 K","t":1.85,"y":0.48},{"s":"40 K","t":2.3,"y":0.35},{"s":"40 K","t":2.8,"y":0.24},{"s":"40 K","t":3.7,"y":0.115},{"s":"40 K","t":4.65,"y":0.05},{"s":"40 K","t":5.6,"y":0.02},{"s":"40 K","t":7,"y":0.006},{"s":"40 K","t":10,"y":0.001},{"s":"40 K","t":16.3,"y":0.0},
{"s":"50 K","t":0.8,"y":1.05},{"s":"50 K","t":0.95,"y":0.8},{"s":"50 K","t":1.1,"y":0.6},{"s":"50 K","t":1.3,"y":0.45},{"s":"50 K","t":1.65,"y":0.26},{"s":"50 K","t":2.1,"y":0.11},{"s":"50 K","t":2.7,"y":0.035},{"s":"50 K","t":3.2,"y":0.01},{"s":"50 K","t":4,"y":0.002},{"s":"50 K","t":8.2,"y":0.0}
],
"msdD": [
{"T":10,"m":"streched","v":0.02},{"T":10,"m":"mono","v":0.033},{"T":10,"m":"bi","v":0.008},
{"T":20,"m":"streched","v":0.052},{"T":20,"m":"mono","v":0.086},{"T":20,"m":"bi","v":0.045},
{"T":30,"m":"streched","v":0.342},{"T":30,"m":"mono","v":0.414},{"T":30,"m":"bi","v":0.314},
{"T":40,"m":"streched","v":0.225},{"T":40,"m":"mono","v":0.323},{"T":40,"m":"bi","v":0.203},
{"T":50,"m":"streched","v":1.064},{"T":50,"m":"mono","v":1.173},{"T":50,"m":"bi","v":1.058}
],
"msdH": [
{"T":10,"m":"streched","v":0.5},{"T":10,"m":"mono","v":3.75},{"T":10,"m":"bi","v":3.75},
{"T":20,"m":"streched","v":0.44},{"T":20,"m":"mono","v":2.28},{"T":20,"m":"bi","v":2.28},
{"T":30,"m":"streched","v":0.93},{"T":30,"m":"mono","v":1.95},{"T":30,"m":"bi","v":1.95},
{"T":40,"m":"streched","v":1.52},{"T":40,"m":"mono","v":1.61},{"T":40,"m":"bi","v":1.56},
{"T":50,"m":"streched","v":3.02},{"T":50,"m":"mono","v":3.38},{"T":50,"m":"bi","v":2.97}
]
},
"columns": 4,
"spacing": {"row": 103, "column": 77},
"bounds": "flush",
"resolve": {"scale": {"shape": "independent", "color": "independent"}, "legend": {"shape": "independent", "color": "independent"}},
"concat": [
{
 "width": 200, "height": 350,
 "resolve": {"axis": {"x": "independent", "y": "independent"}},
 "layer": [
  {"data": {"name": "ir"}, "mark": {"type": "line", "strokeWidth": 1.2, "clip": true},
   "encoding": {
    "x": {"field": "t", "type": "quantitative", "scale": {"domain": [0, 1], "nice": false, "zero": false}, "axis": {"values": [0, 0.5, 1], "format": "~g", "title": "t [ms]", "labelPadding": 17, "titlePadding": 0}},
    "y": {"field": "y", "type": "quantitative", "scale": {"domain": [-0.4, 1.2], "nice": false, "zero": false}, "axis": {"values": [-0.4, -0.2, 0, 0.2, 0.4, 0.6, 0.8, 1, 1.2], "format": "~g", "labelExpr": "replace(datum.label, '\u2212', '-')", "title": "I(t) [a.u.]", "labelPadding": 10, "titlePadding": 15}},
    "color": {"field": "s", "type": "nominal", "scale": {"domain": ["10 K", "20 K", "30 K", "40 K", "50 K"], "range": ["#0072BD", "#EDB120", "#77AC30", "#A2142F", "#D95319"]}, "legend": null}
   }},
  {"data": {"name": "fitA"}, "mark": {"type": "line", "color": "#4d4d4d", "strokeWidth": 1, "strokeDash": [5, 2, 1, 2], "clip": true},
   "encoding": {"x": {"field": "t", "type": "quantitative", "axis": null}, "y": {"field": "y", "type": "quantitative", "axis": null}, "detail": {"field": "s", "type": "nominal"}}},
  {"data": {"values": [{}]}, "mark": {"type": "point", "opacity": 0}, "encoding": {"x": {"datum": 0, "axis": {"orient": "top", "values": [0, 0.5, 1], "labels": false, "title": null}}, "y": {"datum": 0, "axis": {"orient": "right", "values": [-0.4, -0.2, 0, 0.2, 0.4, 0.6, 0.8, 1, 1.2], "labels": false, "title": null}}}},
  {"data": {"values": [{}]}, "mark": {"type": "text", "text": "A", "align": "left", "baseline": "alphabetic", "fontSize": 27, "fontWeight": "bold", "color": "#1a1a1a", "dx": -83, "dy": -28}, "encoding": {"x": {"datum": 0, "axis": null}, "y": {"datum": 1.2, "axis": null}}},
  {"data": {"values": [{}]}, "mark": {"type": "text", "text": "IR Cu (maximum", "align": "center", "baseline": "middle", "angle": 270, "fontSize": 30, "fontWeight": "bold", "color": "#1a1a1a", "dy": -114.5}, "encoding": {"x": {"datum": 0, "axis": null}, "y": {"datum": 0.4, "axis": null}}},
  {"data": {"values": [{}]}, "mark": {"type": "text", "text": "10 K", "align": "right", "baseline": "middle", "fontSize": 24, "fontWeight": "bold", "color": "#0072BD"}, "encoding": {"x": {"datum": 0.94, "axis": null}, "y": {"datum": 0.82, "axis": null}}},
  {"data": {"values": [{}]}, "mark": {"type": "text", "text": "20 K", "align": "right", "baseline": "middle", "fontSize": 24, "fontWeight": "bold", "color": "#EDB120"}, "encoding": {"x": {"datum": 0.94, "axis": null}, "y": {"datum": 0.693, "axis": null}}},
  {"data": {"values": [{}]}, "mark": {"type": "text", "text": "30 K", "align": "right", "baseline": "middle", "fontSize": 24, "fontWeight": "bold", "color": "#77AC30"}, "encoding": {"x": {"datum": 0.94, "axis": null}, "y": {"datum": 0.565, "axis": null}}},
  {"data": {"values": [{}]}, "mark": {"type": "text", "text": "40 K", "align": "right", "baseline": "middle", "fontSize": 24, "fontWeight": "bold", "color": "#A2142F"}, "encoding": {"x": {"datum": 0.94, "axis": null}, "y": {"datum": 0.437, "axis": null}}},
  {"data": {"values": [{}]}, "mark": {"type": "text", "text": "50 K", "align": "right", "baseline": "middle", "fontSize": 24, "fontWeight": "bold", "color": "#D95319"}, "encoding": {"x": {"datum": 0.94, "axis": null}, "y": {"datum": 0.313, "axis": null}}},
  {"data": {"values": [{}]}, "mark": {"type": "text", "text": "f(x)=1-a exp(-x/b)", "align": "center", "baseline": "middle", "fontSize": 19, "fontWeight": "bold", "color": "#000000"}, "encoding": {"x": {"datum": 0.535, "axis": null}, "y": {"datum": -0.3, "axis": null}}}
 ]
},
{
 "width": 220, "height": 352,
 "resolve": {"axis": {"x": "independent", "y": "independent"}},
 "layer": [
  {"data": {"name": "ir"}, "mark": {"type": "line", "strokeWidth": 1.2, "clip": true},
   "encoding": {
    "x": {"field": "t", "type": "quantitative", "scale": {"domain": [0, 1], "nice": false, "zero": false}, "axis": {"values": [0, 0.5, 1], "format": "~g", "title": "t [ms]", "labelPadding": 14, "titlePadding": 2}},
    "y": {"field": "y", "type": "quantitative", "scale": {"domain": [-0.4, 1.2], "nice": false, "zero": false}, "axis": {"values": [-0.4, -0.2, 0, 0.2, 0.4, 0.6, 0.8, 1, 1.2], "format": "~g", "labelExpr": "replace(datum.label, '\u2212', '-')", "title": null, "labelPadding": 13}},
    "color": {"field": "s", "type": "nominal", "scale": {"domain": ["10 K", "20 K", "30 K", "40 K", "50 K"], "range": ["#0072BD", "#EDB120", "#77AC30", "#A2142F", "#D95319"]}, "legend": null}
   }},
  {"data": {"name": "fitB"}, "mark": {"type": "line", "color": "#4d4d4d", "strokeWidth": 1, "strokeDash": [5, 2, 1, 2], "clip": true},
   "encoding": {"x": {"field": "t", "type": "quantitative", "axis": null}, "y": {"field": "y", "type": "quantitative", "axis": null}, "detail": {"field": "s", "type": "nominal"}}},
  {"data": {"values": [{}]}, "mark": {"type": "point", "opacity": 0}, "encoding": {"x": {"datum": 0, "axis": {"orient": "top", "values": [0, 0.5, 1], "labels": false, "title": null}}, "y": {"datum": 0, "axis": {"orient": "right", "values": [-0.4, -0.2, 0, 0.2, 0.4, 0.6, 0.8, 1, 1.2], "labels": false, "title": null}}}},
  {"data": {"values": [{}]}, "mark": {"type": "text", "text": "B", "align": "left", "baseline": "alphabetic", "fontSize": 27, "fontWeight": "bold", "color": "#1a1a1a", "dx": -65, "dy": -28}, "encoding": {"x": {"datum": 0, "axis": null}, "y": {"datum": 1.2, "axis": null}}},
  {"data": {"values": [{}]}, "mark": {"type": "text", "text": "f(x)=1-a exp(-b x)", "align": "right", "baseline": "middle", "fontSize": 19, "fontWeight": "bold", "color": "#000000"}, "encoding": {"x": {"datum": 0.968, "axis": null}, "y": {"datum": -0.2, "axis": null}}},
  {"data": {"values": [{}]}, "mark": {"type": "text", "text": "-c*exp(-d x)", "align": "right", "baseline": "middle", "fontSize": 19, "fontWeight": "bold", "color": "#000000"}, "encoding": {"x": {"datum": 0.968, "axis": null}, "y": {"datum": -0.305, "axis": null}}}
 ]
},
{
 "width": 218, "height": 355,
 "resolve": {"axis": {"x": "independent", "y": "independent"}},
 "layer": [
  {"data": {"name": "ir"}, "mark": {"type": "line", "strokeWidth": 1.2, "clip": true},
   "encoding": {
    "x": {"field": "t", "type": "quantitative", "scale": {"domain": [0, 1], "nice": false, "zero": false}, "axis": {"values": [0, 0.5, 1], "format": "~g", "title": "t [ms]", "labelPadding": 17, "titlePadding": 1}},
    "y": {"field": "y", "type": "quantitative", "scale": {"domain": [-0.4, 1.2], "nice": false, "zero": false}, "axis": {"values": [-0.4, -0.2, 0, 0.2, 0.4, 0.6, 0.8, 1, 1.2], "format": "~g", "labelExpr": "replace(datum.label, '\u2212', '-')", "title": null, "labelPadding": 12}},
    "color": {"field": "s", "type": "nominal", "scale": {"domain": ["10 K", "20 K", "30 K", "40 K", "50 K"], "range": ["#0072BD", "#EDB120", "#77AC30", "#A2142F", "#D95319"]}, "legend": null}
   }},
  {"data": {"name": "fitC"}, "mark": {"type": "line", "color": "#6b6b6b", "strokeWidth": 1, "clip": true},
   "encoding": {"x": {"field": "t", "type": "quantitative", "axis": null}, "y": {"field": "y", "type": "quantitative", "axis": null}, "detail": {"field": "s", "type": "nominal"}}},
  {"data": {"values": [{}]}, "mark": {"type": "point", "opacity": 0}, "encoding": {"x": {"datum": 0, "axis": {"orient": "top", "values": [0, 0.5, 1], "labels": false, "title": null}}, "y": {"datum": 0, "axis": {"orient": "right", "values": [-0.4, -0.2, 0, 0.2, 0.4, 0.6, 0.8, 1, 1.2], "labels": false, "title": null}}}},
  {"data": {"values": [{}]}, "mark": {"type": "rule", "color": "#555555", "strokeWidth": 1, "strokeDash": [6, 4]}, "encoding": {"x": {"datum": 0.02, "axis": null}, "x2": {"datum": 1}, "y": {"datum": 0.78, "axis": null}}},
  {"data": {"values": [{}]}, "mark": {"type": "rule", "color": "#b0b0b0", "strokeWidth": 1, "strokeDash": [6, 4]}, "encoding": {"x": {"datum": 0.02, "axis": null}, "x2": {"datum": 1}, "y": {"datum": 0.57, "axis": null}}},
  {"data": {"values": [{}]}, "mark": {"type": "text", "text": "1-1/e", "align": "right", "baseline": "middle", "fontSize": 26, "color": "#262626", "dx": -2}, "encoding": {"x": {"datum": 1, "axis": null}, "y": {"datum": 0.839, "axis": null}}},
  {"data": {"values": [{}]}, "mark": {"type": "text", "text": "1-1/e²", "align": "right", "baseline": "middle", "fontSize": 26, "color": "#262626", "dx": -1}, "encoding": {"x": {"datum": 1, "axis": null}, "y": {"datum": 0.636, "axis": null}}},
  {"data": {"values": [{}]}, "mark": {"type": "text", "text": "C", "align": "left", "baseline": "alphabetic", "fontSize": 27, "fontWeight": "bold", "color": "#1a1a1a", "dx": -59, "dy": -26}, "encoding": {"x": {"datum": 0, "axis": null}, "y": {"datum": 1.2, "axis": null}}},
  {"data": {"values": [{}]}, "mark": {"type": "text", "text": "f(x)=1-a exp(-b(x.^(c/3)))", "align": "center", "baseline": "middle", "fontSize": 19, "fontWeight": "bold", "color": "#000000"}, "encoding": {"x": {"datum": 0.509, "axis": null}, "y": {"datum": -0.332, "axis": null}}}
 ]
},
{
 "width": 201, "height": 358,
 "layer": [
  {"data": {"name": "msdD"}, "mark": {"type": "point", "filled": false, "color": "#3f3fa3", "size": 300, "strokeWidth": 1.2},
   "encoding": {
    "x": {"field": "T", "type": "quantitative", "scale": {"domain": [5, 55], "nice": false, "zero": false}, "axis": {"values": [20, 40], "format": "d", "title": "temperatue [K]", "labelFontSize": 24, "labelPadding": 17, "titlePadding": 0}},
    "y": {"field": "v", "type": "quantitative", "scale": {"domain": [0, 1.2], "nice": false, "zero": false}, "axis": {"values": [0, 0.2, 0.4, 0.6, 0.8, 1, 1.2], "format": "~g", "title": "msd\u00a0\u00a0\u00a0[a.u.]", "labelFontSize": 24, "labelPadding": 11, "titlePadding": 2}},
    "shape": {"field": "m", "type": "nominal", "scale": {"domain": ["streched", "mono", "bi"], "range": ["M0,-1L0.62,0L0,1L-0.62,0Z", "M-0.85,0A0.85,0.6,0,1,1,0.85,0A0.85,0.6,0,1,1,-0.85,0Z", "M-0.55,-0.55L0.55,0.55M-0.55,0.55L0.55,-0.55"]},
     "legend": {"title": null, "orient": "none", "legendX": 20, "legendY": 32, "strokeColor": "#262626", "fillColor": "white", "padding": 6, "labelFontSize": 16, "labelColor": "#000000", "symbolSize": 150, "symbolStrokeColor": "#000000", "symbolFillColor": "transparent", "symbolStrokeWidth": 1, "rowPadding": 3, "symbolOffset": 9, "labelOffset": 11, "labelExpr": "datum.label + '\u00a0\u00a0\u00a0\u00a0\u200b'",
      "encode": {"symbols": {"update": {"stroke": {"value": "#000000"}, "strokeWidth": {"value": 1}, "fill": {"value": "transparent"}}}}}}
   }},
  {"data": {"values": [{}]}, "mark": {"type": "text", "text": "D", "align": "left", "baseline": "alphabetic", "fontSize": 27, "fontWeight": "bold", "color": "#1a1a1a", "dx": -58, "dy": -26}, "encoding": {"x": {"datum": 5}, "y": {"datum": 1.2}}},
  {"data": {"values": [{}]}, "mark": {"type": "text", "text": "×10", "align": "left", "baseline": "alphabetic", "fontSize": 22, "color": "#262626", "dx": 2, "dy": -6}, "encoding": {"x": {"datum": 5}, "y": {"datum": 1.2}}},
  {"data": {"values": [{}]}, "mark": {"type": "text", "text": "-4", "align": "left", "baseline": "alphabetic", "fontSize": 15, "color": "#262626", "dx": 40, "dy": -16}, "encoding": {"x": {"datum": 5}, "y": {"datum": 1.2}}}
 ]
},
{
 "width": 215, "height": 362,
 "resolve": {"axis": {"x": "independent", "y": "independent"}},
 "layer": [
  {"data": {"name": "tm"}, "mark": {"type": "line", "strokeWidth": 1.2, "clip": true},
   "encoding": {
    "x": {"field": "t", "type": "quantitative", "scale": {"domain": [0.8, 25], "nice": false, "zero": false}, "axis": {"values": [5, 10, 15, 20, 25], "format": "~g", "title": "t [μs]", "labelPadding": 22, "titlePadding": 0}},
    "y": {"field": "y", "type": "quantitative", "scale": {"domain": [-0.2, 1.2], "nice": false, "zero": false}, "axis": {"values": [-0.2, 0, 0.2, 0.4, 0.6, 0.8, 1, 1.2], "format": "~g", "labelExpr": "replace(datum.label, '\u2212', '-')", "title": "I(t)/I(t0)", "labelPadding": 11, "titlePadding": 4}},
    "color": {"field": "s", "type": "nominal", "scale": {"domain": ["10 K", "20 K", "30 K", "40 K", "50 K"], "range": ["#0072BD", "#EDB120", "#77AC30", "#A2142F", "#D95319"]}, "legend": null}
   }},
  {"data": {"name": "fitE"}, "mark": {"type": "line", "color": "#4d4d4d", "strokeWidth": 1, "strokeDash": [5, 2, 1, 2], "clip": true},
   "encoding": {"x": {"field": "t", "type": "quantitative", "axis": null}, "y": {"field": "y", "type": "quantitative", "axis": null}, "detail": {"field": "s", "type": "nominal"}}},
  {"data": {"values": [{}]}, "mark": {"type": "point", "opacity": 0}, "encoding": {"x": {"datum": 5, "axis": {"orient": "top", "values": [5, 10, 15, 20, 25], "labels": false, "title": null}}, "y": {"datum": 0, "axis": {"orient": "right", "values": [-0.2, 0, 0.2, 0.4, 0.6, 0.8, 1, 1.2], "labels": false, "title": null}}}},
  {"data": {"values": [{}]}, "mark": {"type": "text", "text": "E", "align": "left", "baseline": "alphabetic", "fontSize": 27, "fontWeight": "bold", "color": "#1a1a1a", "dx": -81, "dy": -10}, "encoding": {"x": {"datum": 0.8, "axis": null}, "y": {"datum": 1.2, "axis": null}}},
  {"data": {"values": [{}]}, "mark": {"type": "text", "text": "Tm Cu (maximum", "align": "center", "baseline": "middle", "angle": 270, "fontSize": 30, "fontWeight": "bold", "color": "#1a1a1a", "dy": -102}, "encoding": {"x": {"datum": 0.8, "axis": null}, "y": {"datum": 0.5, "axis": null}}},
  {"data": {"values": [{}]}, "mark": {"type": "text", "text": "10 K", "align": "right", "baseline": "middle", "fontSize": 24, "fontWeight": "bold", "color": "#0072BD"}, "encoding": {"x": {"datum": 22, "axis": null}, "y": {"datum": 1.037, "axis": null}}},
  {"data": {"values": [{}]}, "mark": {"type": "text", "text": "20 K", "align": "right", "baseline": "middle", "fontSize": 24, "fontWeight": "bold", "color": "#EDB120"}, "encoding": {"x": {"datum": 22, "axis": null}, "y": {"datum": 0.929, "axis": null}}},
  {"data": {"values": [{}]}, "mark": {"type": "text", "text": "30 K", "align": "right", "baseline": "middle", "fontSize": 24, "fontWeight": "bold", "color": "#77AC30"}, "encoding": {"x": {"datum": 22, "axis": null}, "y": {"datum": 0.817, "axis": null}}},
  {"data": {"values": [{}]}, "mark": {"type": "text", "text": "40 K", "align": "right", "baseline": "middle", "fontSize": 24, "fontWeight": "bold", "color": "#A2142F"}, "encoding": {"x": {"datum": 22, "axis": null}, "y": {"datum": 0.712, "axis": null}}},
  {"data": {"values": [{}]}, "mark": {"type": "text", "text": "50 K", "align": "right", "baseline": "middle", "fontSize": 24, "fontWeight": "bold", "color": "#D95319"}, "encoding": {"x": {"datum": 22, "axis": null}, "y": {"datum": 0.607, "axis": null}}},
  {"data": {"values": [{}]}, "mark": {"type": "text", "text": "f(x)=a exp(-b x)", "align": "center", "baseline": "middle", "fontSize": 19, "fontWeight": "bold", "color": "#000000"}, "encoding": {"x": {"datum": 12.7, "axis": null}, "y": {"datum": -0.13, "axis": null}}}
 ]
},
{
 "width": 216, "height": 366,
 "resolve": {"axis": {"x": "independent", "y": "independent"}},
 "layer": [
  {"data": {"name": "tm"}, "mark": {"type": "line", "strokeWidth": 1.2, "clip": true},
   "encoding": {
    "x": {"field": "t", "type": "quantitative", "scale": {"domain": [0.8, 25], "nice": false, "zero": false}, "axis": {"values": [5, 10, 15, 20, 25], "format": "~g", "title": "t [μs]", "labelPadding": 10, "titlePadding": 0}},
    "y": {"field": "y", "type": "quantitative", "scale": {"domain": [-0.2, 1.2], "nice": false, "zero": false}, "axis": {"values": [-0.2, 0, 0.2, 0.4, 0.6, 0.8, 1, 1.2], "format": "~g", "labelExpr": "replace(datum.label, '\u2212', '-')", "title": null, "labelPadding": 15}},
    "color": {"field": "s", "type": "nominal", "scale": {"domain": ["10 K", "20 K", "30 K", "40 K", "50 K"], "range": ["#0072BD", "#EDB120", "#77AC30", "#A2142F", "#D95319"]}, "legend": null}
   }},
  {"data": {"name": "fitF"}, "mark": {"type": "line", "color": "#4d4d4d", "strokeWidth": 1, "strokeDash": [5, 2, 1, 2], "clip": true},
   "encoding": {"x": {"field": "t", "type": "quantitative", "axis": null}, "y": {"field": "y", "type": "quantitative", "axis": null}, "detail": {"field": "s", "type": "nominal"}}},
  {"data": {"values": [{}]}, "mark": {"type": "point", "opacity": 0}, "encoding": {"x": {"datum": 5, "axis": {"orient": "top", "values": [5, 10, 15, 20, 25], "labels": false, "title": null}}, "y": {"datum": 0, "axis": {"orient": "right", "values": [-0.2, 0, 0.2, 0.4, 0.6, 0.8, 1, 1.2], "labels": false, "title": null}}}},
  {"data": {"values": [{}]}, "mark": {"type": "text", "text": "F", "align": "left", "baseline": "alphabetic", "fontSize": 27, "fontWeight": "bold", "color": "#1a1a1a", "dx": -63, "dy": -12}, "encoding": {"x": {"datum": 0.8, "axis": null}, "y": {"datum": 1.2, "axis": null}}},
  {"data": {"values": [{}]}, "mark": {"type": "text", "text": "f(x)=a exp(-b x)", "align": "right", "baseline": "middle", "fontSize": 19, "fontWeight": "bold", "color": "#000000"}, "encoding": {"x": {"datum": 24.2, "axis": null}, "y": {"datum": 1.066, "axis": null}}},
  {"data": {"values": [{}]}, "mark": {"type": "text", "text": "+c*exp(-d x)", "align": "right", "baseline": "middle", "fontSize": 19, "fontWeight": "bold", "color": "#000000"}, "encoding": {"x": {"datum": 24.2, "axis": null}, "y": {"datum": 0.978, "axis": null}}}
 ]
},
{
 "width": 229, "height": 370,
 "resolve": {"axis": {"x": "independent", "y": "independent"}},
 "layer": [
  {"data": {"name": "tm"}, "mark": {"type": "line", "strokeWidth": 1.2, "clip": true},
   "encoding": {
    "x": {"field": "t", "type": "quantitative", "scale": {"domain": [0.8, 25], "nice": false, "zero": false}, "axis": {"values": [5, 10, 15, 20, 25], "format": "~g", "title": "t [μs]", "labelPadding": 11, "titlePadding": 0}},
    "y": {"field": "y", "type": "quantitative", "scale": {"domain": [-0.2, 1.24], "nice": false, "zero": false}, "axis": {"values": [-0.2, 0, 0.2, 0.4, 0.6, 0.8, 1, 1.2], "format": "~g", "labelExpr": "replace(datum.label, '\u2212', '-')", "title": null, "labelPadding": 20}},
    "color": {"field": "s", "type": "nominal", "scale": {"domain": ["10 K", "20 K", "30 K", "40 K", "50 K"], "range": ["#0072BD", "#EDB120", "#77AC30", "#A2142F", "#D95319"]}, "legend": null}
   }},
  {"data": {"name": "fitG"}, "mark": {"type": "line", "color": "#6b6b6b", "strokeWidth": 1, "clip": true},
   "encoding": {"x": {"field": "t", "type": "quantitative", "axis": null}, "y": {"field": "y", "type": "quantitative", "axis": null}, "detail": {"field": "s", "type": "nominal"}}},
  {"data": {"values": [{}]}, "mark": {"type": "point", "opacity": 0}, "encoding": {"x": {"datum": 5, "axis": {"orient": "top", "values": [5, 10, 15, 20, 25], "labels": false, "title": null}}, "y": {"datum": 0, "axis": {"orient": "right", "values": [-0.2, 0, 0.2, 0.4, 0.6, 0.8, 1, 1.2], "labels": false, "title": null}}}},
  {"data": {"values": [{}]}, "mark": {"type": "rule", "color": "#b5b5b5", "strokeWidth": 1, "strokeDash": [6, 4]}, "encoding": {"x": {"datum": 0.8, "axis": null}, "x2": {"datum": 25}, "y": {"datum": 0.394, "axis": null}}},
  {"data": {"values": [{}]}, "mark": {"type": "rule", "color": "#555555", "strokeWidth": 1, "strokeDash": [6, 4]}, "encoding": {"x": {"datum": 0.8, "axis": null}, "x2": {"datum": 25}, "y": {"datum": 0.148, "axis": null}}},
  {"data": {"values": [{}]}, "mark": {"type": "text", "text": "1/e", "align": "right", "baseline": "middle", "fontSize": 24, "color": "#262626", "dx": -6}, "encoding": {"x": {"datum": 25, "axis": null}, "y": {"datum": 0.466, "axis": null}}},
  {"data": {"values": [{}]}, "mark": {"type": "text", "text": "1/e²", "align": "right", "baseline": "middle", "fontSize": 24, "color": "#262626", "dx": -6}, "encoding": {"x": {"datum": 25, "axis": null}, "y": {"datum": 0.205, "axis": null}}},
  {"data": {"values": [{}]}, "mark": {"type": "text", "text": "G", "align": "left", "baseline": "alphabetic", "fontSize": 27, "fontWeight": "bold", "color": "#1a1a1a", "dx": -59, "dy": -17}, "encoding": {"x": {"datum": 0.8, "axis": null}, "y": {"datum": 1.24, "axis": null}}},
  {"data": {"values": [{}]}, "mark": {"type": "text", "text": "f(x)=a exp(-b(x.^(c/3)))", "align": "center", "baseline": "middle", "fontSize": 19, "fontWeight": "bold", "color": "#000000"}, "encoding": {"x": {"datum": 13.8, "axis": null}, "y": {"datum": -0.087, "axis": null}}}
 ]
},
{
 "width": 201, "height": 370,
 "layer": [
  {"data": {"name": "msdH"}, "mark": {"type": "point", "filled": false, "color": "#2a84d2", "size": 300, "strokeWidth": 1.2},
   "encoding": {
    "x": {"field": "T", "type": "quantitative", "scale": {"domain": [5, 55], "nice": false, "zero": false}, "axis": {"values": [20, 40], "format": "d", "title": "temperatue [K]", "labelFontSize": 24, "labelPadding": 19, "titlePadding": 7}},
    "y": {"field": "v", "type": "quantitative", "scale": {"domain": [0, 8], "nice": false, "zero": false}, "axis": {"values": [0, 2, 4, 6, 8], "format": "d", "title": "msd [a.u.]", "labelFontSize": 24, "labelPadding": 10, "titlePadding": 0}},
    "shape": {"field": "m", "type": "nominal", "scale": {"domain": ["streched", "mono", "bi"], "range": ["M0,-1L0.62,0L0,1L-0.62,0Z", "M-0.85,0A0.85,0.6,0,1,1,0.85,0A0.85,0.6,0,1,1,-0.85,0Z", "M-0.55,-0.55L0.55,0.55M-0.55,0.55L0.55,-0.55"]},
     "legend": {"title": null, "orient": "none", "legendX": 24, "legendY": 16, "strokeColor": "#262626", "fillColor": "white", "padding": 6, "labelFontSize": 16, "labelColor": "#000000", "symbolSize": 150, "symbolStrokeColor": "#000000", "symbolFillColor": "transparent", "symbolStrokeWidth": 1, "rowPadding": 3, "symbolOffset": 9, "labelOffset": 11, "labelExpr": "datum.label + '\u00a0\u00a0\u00a0\u00a0\u200b'",
      "encode": {"symbols": {"update": {"stroke": {"value": "#000000"}, "strokeWidth": {"value": 1}, "fill": {"value": "transparent"}}}}}}
   }},
  {"data": {"values": [{}]}, "mark": {"type": "text", "text": "H", "align": "left", "baseline": "alphabetic", "fontSize": 27, "fontWeight": "bold", "color": "#1a1a1a", "dx": -56, "dy": -8}, "encoding": {"x": {"datum": 5}, "y": {"datum": 8}}},
  {"data": {"values": [{}]}, "mark": {"type": "text", "text": "×10", "align": "left", "baseline": "alphabetic", "fontSize": 22, "color": "#262626", "dx": 5, "dy": -7}, "encoding": {"x": {"datum": 5}, "y": {"datum": 8}}},
  {"data": {"values": [{}]}, "mark": {"type": "text", "text": "-4", "align": "left", "baseline": "alphabetic", "fontSize": 15, "color": "#262626", "dx": 43, "dy": -17}, "encoding": {"x": {"datum": 5}, "y": {"datum": 8}}}
 ]
}
]
}
